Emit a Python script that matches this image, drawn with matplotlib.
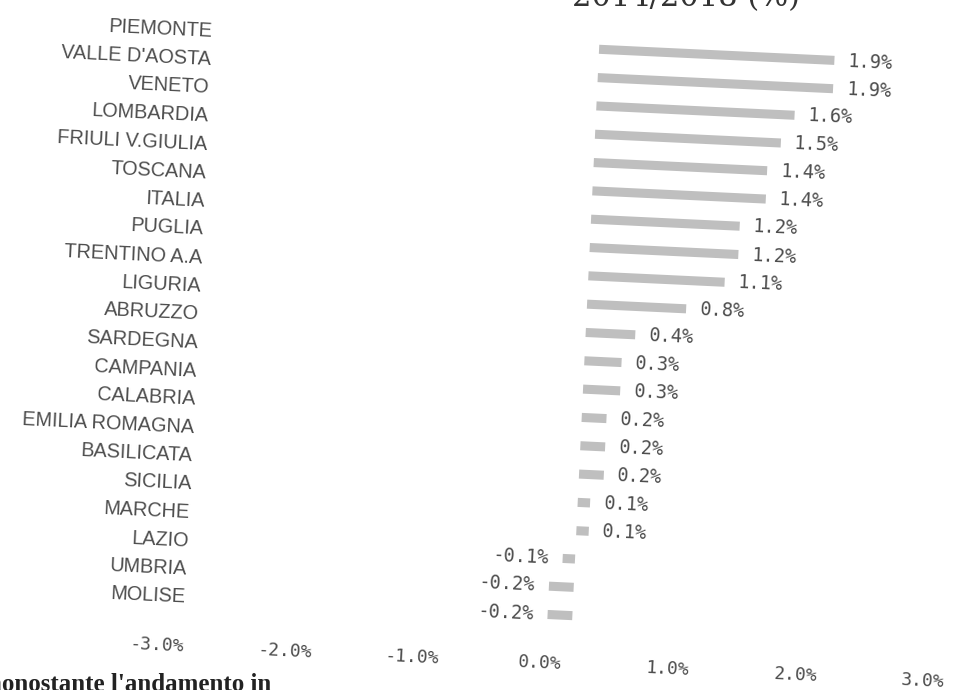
import matplotlib
matplotlib.use('Agg')
import matplotlib.pyplot as plt
import matplotlib.transforms as mtransforms

regions = ['PIEMONTE', "VALLE D'AOSTA", 'VENETO', 'LOMBARDIA', 'FRIULI V.GIULIA',
           'TOSCANA', 'ITALIA', 'PUGLIA', 'TRENTINO A.A', 'LIGURIA', 'ABRUZZO',
           'SARDEGNA', 'CAMPANIA', 'CALABRIA', 'EMILIA ROMAGNA', 'BASILICATA',
           'SICILIA', 'MARCHE', 'LAZIO', 'UMBRIA', 'MOLISE']
values = [1.9, 1.9, 1.6, 1.5, 1.4, 1.4, 1.2, 1.2, 1.1, 0.8, 0.4,
          0.3, 0.3, 0.2, 0.2, 0.2, 0.1, 0.1, -0.1, -0.2, -0.2]
ticks = [-3, -2, -1, 0, 1, 2, 3]
tick_labels = ['-3.0%', '-2.0%', '-1.0%', '0.0%', '1.0%', '2.0%', '3.0%']

W, H = 959, 690
fig = plt.figure(figsize=(W / 100, H / 100), dpi=100)
ax = fig.add_axes([0, 0, 1, 1])
ax.set_axis_off()

# pixel layout (before the scan tilt): zero at x=585, 124 px per 1%
x0, ppu = 585, 124
ax.set_xlim(-x0 / ppu, (W - x0) / ppu)
row0, step = 44, 28.35
ax.set_ylim((H - row0) / step, -row0 / step)

# the scan is tilted a bit clockwise
ang = -2.7
rot = mtransforms.Affine2D().rotate_deg_around(480, 345, ang)
tr = ax.transData + rot

txt = '#4d4d4d'
bars = ax.barh(range(len(values)), values, height=0.32, color='#bfbfbf')
for p in bars:
    p.set_transform(tr)

for i, name in enumerate(regions):
    ax.text(-3.12, i, name, ha='right', va='center', fontsize=14.3,
            family='Liberation Sans', color=txt, transform=tr, rotation=ang,
            rotation_mode='anchor')

for i, v in enumerate(values):
    if v >= 0:
        ax.text(v + 0.11, i, f'{v:.1f}%', ha='left', va='center', fontsize=13.5,
                family='DejaVu Sans Mono', color=txt, transform=tr,
                rotation=ang, rotation_mode='anchor')
    else:
        ax.text(v - 0.11, i, f'{v:.1f}%', ha='right', va='center', fontsize=13.5,
                family='DejaVu Sans Mono', color=txt, transform=tr,
                rotation=ang, rotation_mode='anchor')

ty = (660 - row0) / step
for t, lab in zip(ticks, tick_labels):
    ax.text(t * 1.03 - 0.24, ty, lab, ha='center', va='center', fontsize=13,
            family='DejaVu Sans Mono', color=txt, transform=tr,
            rotation=ang, rotation_mode='anchor')

# title and article text, cut off by the scan edges
fig.text(800 / W, 1 - 6 / H, '2014/2018 (%)', ha='right',
         va='baseline', fontsize=22, family='DejaVu Serif', color='#333333')
fig.text(-12 / W, -1 / H, "nonostante l'andamento in", ha='left', va='baseline',
         fontsize=18, family='Liberation Serif', weight='bold', color='#222222')

fig.savefig('out.png', dpi=100, facecolor='white')
